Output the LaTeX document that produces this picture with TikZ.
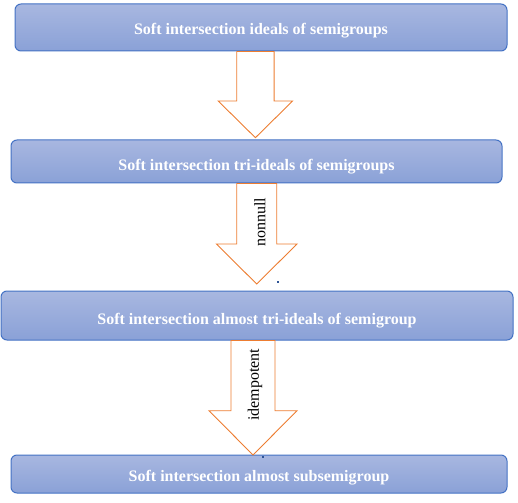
\documentclass[tikz,border=0pt]{standalone}
\usepackage{fontspec}
\setmainfont{Liberation Serif}
\usetikzlibrary{calc}

\definecolor{boxtop}{HTML}{A8B7E0}
\definecolor{boxbot}{HTML}{8AA1D7}
\definecolor{boxline}{HTML}{4472C4}
\definecolor{arrline}{HTML}{ED7D31}
\definecolor{dotblue}{HTML}{2F5597}

% block arrow: #1 top centre, #2 tip, #3 half shaft, #4 half head, #5 head length
\newcommand{\blockdown}[5]{%
  \draw[blockarr] let \p1=(#1), \p2=(#2) in
    (\x1-#3,\y1) -- (\x1+#3,\y1) -- (\x1+#3,\y2+#5) -- (\x1+#4,\y2+#5)
    -- (\x2,\y2) -- (\x1-#4,\y2+#5) -- (\x1-#3,\y2+#5) -- cycle;}

\begin{document}
\begin{tikzpicture}[x=1pt, y=-1pt,
    box/.style={draw=boxline, line width=1pt, rounded corners=6pt,
                top color=boxtop, bottom color=boxbot, text=white,
                font=\fontsize{16}{19}\selectfont\bfseries,
                text height=16pt, text depth=0pt, inner sep=0pt},
    blockarr/.style={draw=arrline, line width=0.9pt, fill=white},
    tag/.style={rotate=90, font=\fontsize{16}{19}\selectfont, inner sep=0pt}]
  \useasboundingbox (0,0) rectangle (518,502);

  \node[box, minimum width=492pt, minimum height=47pt, text height=15pt] (ideal) at (261,27.5)
    {Soft intersection ideals of semigroups};
  \node[box, minimum width=491pt, minimum height=43pt, text height=18pt] (tri) at (256.5,161.5)
    {Soft intersection tri-ideals of semigroups};
  \node[box, minimum width=512pt, minimum height=49pt, text height=17pt] (almtri) at (257,315.5)
    {Soft intersection almost tri-ideals of semigroup};
  \node[box, minimum width=496pt, minimum height=38pt, text height=14pt] (almsub) at (259,474)
    {Soft intersection almost subsemigroup};

  \coordinate (tip1) at (255.4,137.7);
  \coordinate (tip2) at (256.7,284);
  \coordinate (tip3) at (253,455);

  \blockdown{ideal.south -| tip1}{tip1}{18.7}{37.2}{36.7}
  \blockdown{tri.south -| tip2}{tip2}{20}{40.3}{40}
  \blockdown{almtri.south -| tip3}{tip3}{22}{44}{44.3}

  \node[tag] (nonnull) at (260,222.5) {nonnull};
  \node[tag] (idem) at (255,385) {idempotent};

  \fill[dotblue] (276.5,280.5) rectangle +(2,2);
  \fill[dotblue] (262,456) rectangle +(2,2);
\end{tikzpicture}
\end{document}
